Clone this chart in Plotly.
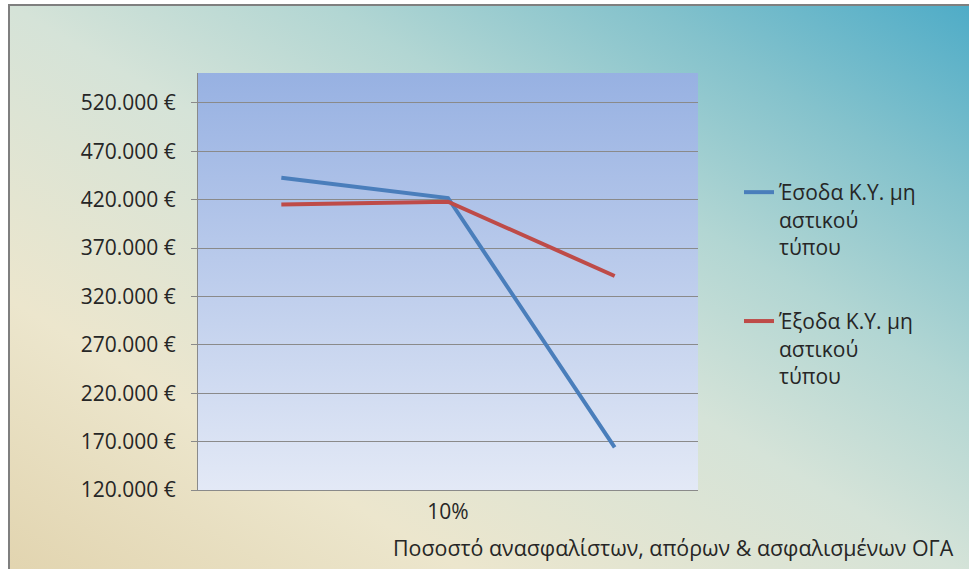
import base64
import plotly.graph_objects as go

# ---- data ----
x_pos = [1, 2, 3]
x_labels = ["", "10%", ""]
esoda = [442800, 421800, 164100]
exoda = [415000, 418000, 341200]
series_names = ["Έσοδα Κ.Υ. μη<br>αστικού<br>τύπου", "Έξοδα Κ.Υ. μη<br>αστικού<br>τύπου"]
x_title = "Ποσοστό ανασφαλίστων, απόρων & ασφαλισμένων ΟΓΑ"

W, H = 969, 569
ML, MR, MT, MB = 198, 271, 73, 79
PW, PH = W - ML - MR, H - MT - MB

FONT = "Open Sans"
TXT = "#262626"


def svg_uri(svg):
    return "data:image/svg+xml;base64," + base64.b64encode(svg.encode("utf-8")).decode()


bg_svg = f"""<svg xmlns='http://www.w3.org/2000/svg' width='{W}' height='{H}' viewBox='0 0 {W} {H}' preserveAspectRatio='none'>
<defs><linearGradient id='g' x1='0' y1='1' x2='1' y2='0'>
<stop offset='0' stop-color='#e1d3ad'/>
<stop offset='0.25' stop-color='#ece6cd'/>
<stop offset='0.5' stop-color='#d5e3d8'/>
<stop offset='0.66' stop-color='#b2d6d3'/>
<stop offset='0.82' stop-color='#84c2cc'/>
<stop offset='1' stop-color='#4aaac7'/>
</linearGradient></defs>
<rect x='0' y='0' width='{W}' height='{H}' fill='#ffffff'/>
<rect x='9' y='5' width='{W + 20}' height='{H + 20}' fill='url(#g)' stroke='#7f7f7f' stroke-width='2'/>
</svg>"""

plot_svg = """<svg xmlns='http://www.w3.org/2000/svg' width='100' height='100' viewBox='0 0 100 100' preserveAspectRatio='none'>
<defs><linearGradient id='p' x1='0' y1='0' x2='0' y2='1'>
<stop offset='0' stop-color='#97b1e2'/>
<stop offset='1' stop-color='#e3e9f6'/>
</linearGradient></defs>
<rect x='0' y='0' width='100' height='100' fill='url(#p)'/>
</svg>"""

fig = go.Figure()
fig.add_trace(go.Scatter(x=x_pos, y=esoda, mode="lines", name=series_names[0],
                         legendgroup="a", line=dict(color="#4a7ebb", width=4)))
fig.add_trace(go.Scatter(x=x_pos, y=exoda, mode="lines", name=series_names[1],
                         legendgroup="b", line=dict(color="#be4b48", width=4)))

fig.update_layout(
    width=W, height=H,
    margin=dict(l=ML, r=MR, t=MT, b=MB, pad=0),
    paper_bgcolor="#ffffff",
    plot_bgcolor="rgba(0,0,0,0)",
    separators=",.",
    font=dict(family=FONT, size=21, color=TXT),
    showlegend=True,
    legend=dict(
        x=(739 - ML) / PW, y=1 - (172 - MT) / PH, xanchor="left", yanchor="top",
        bgcolor="rgba(0,0,0,0)", font=dict(family=FONT, size=21, color=TXT),
        valign="top", traceorder="grouped", tracegroupgap=44,
    ),
    images=[
        dict(source=svg_uri(bg_svg), xref="paper", yref="paper",
             x=-ML / PW, y=1 + MT / PH, sizex=W / PW, sizey=H / PH,
             xanchor="left", yanchor="top", sizing="stretch", layer="below"),
        dict(source=svg_uri(plot_svg), xref="paper", yref="paper",
             x=0, y=1, sizex=1, sizey=1,
             xanchor="left", yanchor="top", sizing="stretch", layer="below"),
    ],
    xaxis=dict(
        range=[0.5, 3.5], tickmode="array", tickvals=x_pos, ticktext=x_labels,
        showgrid=False, zeroline=False, showline=True, linecolor="#8a8a8a", linewidth=1,
        ticks="", ticklabelstandoff=3, tickfont=dict(family=FONT, size=21, color=TXT),
    ),
    yaxis=dict(
        range=[120000, 551000], tickmode="linear", tick0=120000, dtick=50000,
        tickformat=",d", ticksuffix=" €",
        showgrid=True, gridcolor="#8a8a8a", gridwidth=1, zeroline=False,
        showline=True, linecolor="#8a8a8a", linewidth=1,
        ticks="outside", ticklen=6, tickcolor="#8a8a8a",
        ticklabelstandoff=11, tickfont=dict(family=FONT, size=21, color=TXT),
    ),
    annotations=[
        dict(text=x_title, xref="paper", yref="paper",
             x=(956 - ML) / PW, y=-(547 - (H - MB)) / PH, xanchor="right", yanchor="middle",
             showarrow=False, font=dict(family=FONT, size=21.4, color=TXT)),
    ],
)

fig.write_html("out.html")
